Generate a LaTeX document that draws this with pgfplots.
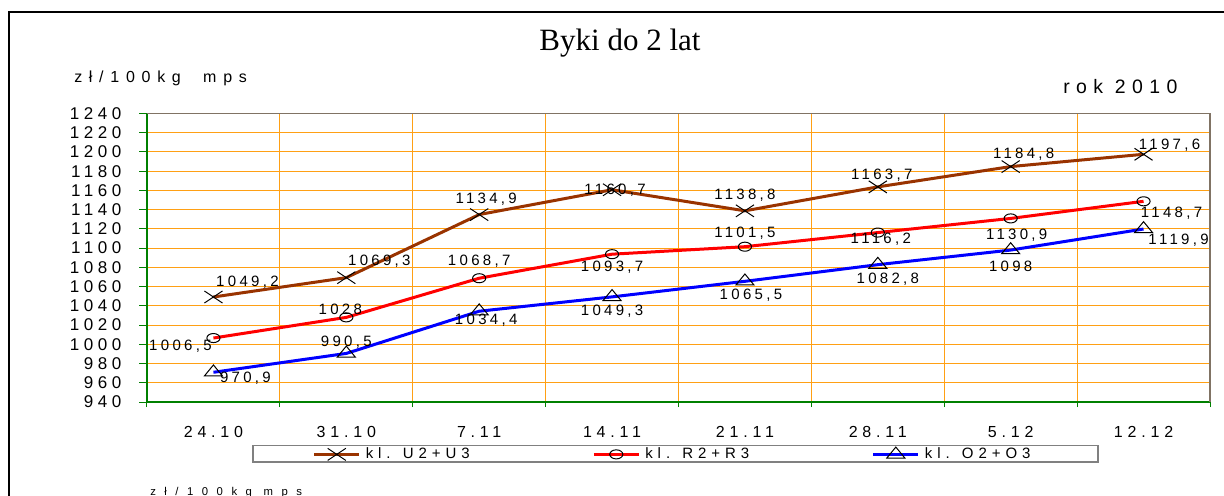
\documentclass[border=0pt]{standalone}
\usepackage{fontspec}
\setmainfont{Liberation Sans}
\newfontfamily\lsfont[LetterSpace=33]{Liberation Sans}
\newfontfamily\lslab[LetterSpace=22]{Liberation Sans}
\newfontfamily\lsytick[LetterSpace=27]{Liberation Sans}
\newfontfamily\lsxtick[LetterSpace=30]{Liberation Sans}
\newfontfamily\lswide[LetterSpace=42]{Liberation Sans}
\newfontfamily\lsxwide[LetterSpace=75]{Liberation Sans}
\newfontfamily\seriffont{Liberation Serif}
\usepackage{pgfplots}
\pgfplotsset{compat=1.18}
\usepackage{pgfplotstable}
\definecolor{ubrown}{RGB}{153,51,0}
\definecolor{gridorange}{RGB}{255,160,20}
\definecolor{axgreen}{RGB}{0,128,0}
\definecolor{axgray}{RGB}{128,115,100}

\pgfplotstableread{
x y lab dx dy
0 1049.2 1049,2 34 15
1 1069.3 1069,3 33 16
2 1134.9 1134,9 7 15
3 1160.7 1160,7 3 0
4 1138.8 1138,8 0 16
5 1163.7 1163,7 4 12
6 1184.8 1184,8 13 12
7 1197.6 1197,6 26 9
}\tabU
\pgfplotstableread{
x y lab dx dy
0 1006.5 1006,5 -33 -8
1 1028 1028 -6 8
2 1068.7 1068,7 0 17
3 1093.7 1093,7 0 -13
4 1101.5 1101,5 0 13
5 1116.2 1116,2 3 -7
6 1130.9 1130,9 6 -17
7 1148.7 1148,7 28 -12
}\tabR
\pgfplotstableread{
x y lab dx dy
0 970.9 970,9 32 -6
1 990.5 990,5 0 11
2 1034.4 1034,4 7 -9
3 1049.3 1049,3 0 -14
4 1065.5 1065,5 6 -14
5 1082.8 1082,8 10 -15
6 1098 1098 0 -16
7 1119.9 1119,9 35 -11
}\tabO

\begin{document}
\begin{tikzpicture}[x=0.75pt,y=0.75pt]
\useasboundingbox (0,0) rectangle (1224,496);
\begin{scope}
\clip (0,0) rectangle (1224,496);
\draw[line width=1.5pt] (8.5,484) rectangle (1240,-20);
\node[anchor=north west, inner sep=0pt, font=\lsxwide\fontsize{8.5}{10}\selectfont] at (150,9) {zł/100kg mps};
\end{scope}

\node[anchor=base, inner sep=0pt, font=\seriffont\fontsize{23.25}{28}\selectfont] at (620,445) {Byki do 2 lat};
\node[anchor=base west, inner sep=0pt, font=\lswide\fontsize{12}{14}\selectfont] at (74,413) {zł/100kg\ \ mps};
\node[anchor=base west, inner sep=0pt, font=\lsfont\fontsize{14.6}{17}\selectfont] at (1063,402) {rok 2010};

\begin{axis}[
  at={(110.25pt,70.5pt)}, anchor=south west,
  scale only axis, width=797.25pt, height=216.375pt,
  xmin=-0.5, xmax=7.5, ymin=940, ymax=1240,
  clip=false,
  axis line style={draw=none},
  xtick={0,...,7},
  xticklabels={24.10,31.10,7.11,14.11,21.11,28.11,5.12,12.12},
  minor xtick={-0.5,0.5,...,7.5},
  ytick={940,960,...,1240},
  yticklabels={940,960,980,1000,1020,1040,1060,1080,1100,1120,1140,1160,1180,1200,1220,1240},
  xtick pos=bottom, ytick pos=left,
  tick align=outside,
  major x tick style={draw=none},
  major y tick style={draw=axgreen, line width=0.75pt},
  minor x tick style={draw=axgreen, line width=0.75pt},
  major tick length=6pt, minor tick length=3.75pt,
  ymajorgrids=true, xminorgrids=true,
  major grid style={draw=gridorange, line width=0.75pt},
  minor grid style={draw=gridorange, line width=0.75pt},
  xticklabel style={font=\lsxtick\fontsize{12}{13}\selectfont, anchor=center, yshift=-16.5pt},
  yticklabel style={font=\lsytick\fontsize{12.75}{13}\selectfont, anchor=east, inner sep=0pt, xshift=-13pt},
  legend columns=3,
  legend style={at={(0.497,-0.18)}, anchor=center, draw=gray, line width=1.1pt,
    font=\lsfont\fontsize{11.25}{13}\selectfont, inner xsep=45pt, inner ysep=1pt,
    nodes={inner sep=0pt},
    /tikz/every odd column/.append style={column sep=3.75pt},
    /tikz/every even column/.append style={column sep=49.9pt}},
  legend image code/.code={\draw[mark repeat=2,mark phase=2,#1] plot coordinates {(0pt,0pt) (16.875pt,0pt) (33.75pt,0pt)};},
  every node near coord/.append style={font=\lslab\fontsize{11.25}{12}\selectfont, text=black, anchor=center, inner sep=0pt, xshift={(\dx)*0.75pt}, yshift={(\dy)*0.75pt}},
]
\addplot[color=ubrown, line width=2.25pt, mark=x, mark size=6.4pt,
  mark options={draw=black, line width=0.75pt, xscale=1.5, solid},
  nodes near coords, point meta=explicit symbolic,
  visualization depends on={\thisrow{dx}\as\dx},
  visualization depends on={\thisrow{dy}\as\dy}]
  table[x=x,y=y,meta=lab]{\tabU};
\addlegendentry{\makebox[120pt][l]{kl. U2+U3}}
\addplot[color=red, line width=2.25pt, mark=o, mark size=3.4pt,
  mark options={draw=black, line width=0.75pt, xscale=1.45, solid, fill=none},
  nodes near coords, point meta=explicit symbolic,
  visualization depends on={\thisrow{dx}\as\dx},
  visualization depends on={\thisrow{dy}\as\dy}]
  table[x=x,y=y,meta=lab]{\tabR};
\addlegendentry{\makebox[120pt][l]{kl. R2+R3}}
\addplot[color=blue, line width=2.25pt, mark=triangle, mark size=5.5pt,
  mark options={draw=black, line width=0.75pt, xscale=1.42, solid, fill=none},
  nodes near coords, point meta=explicit symbolic,
  visualization depends on={\thisrow{dx}\as\dx},
  visualization depends on={\thisrow{dy}\as\dy}]
  table[x=x,y=y,meta=lab]{\tabO};
\addlegendentry{\makebox[84.75pt][l]{kl. O2+O3}}
\draw[axgreen, line width=0.9pt] (rel axis cs:0,1) -- (rel axis cs:0,0) -- (rel axis cs:1,0);
\draw[axgray, line width=0.9pt] (rel axis cs:0,1) -- (rel axis cs:1,1) -- (rel axis cs:1,0);
\end{axis}
\end{tikzpicture}
\end{document}
